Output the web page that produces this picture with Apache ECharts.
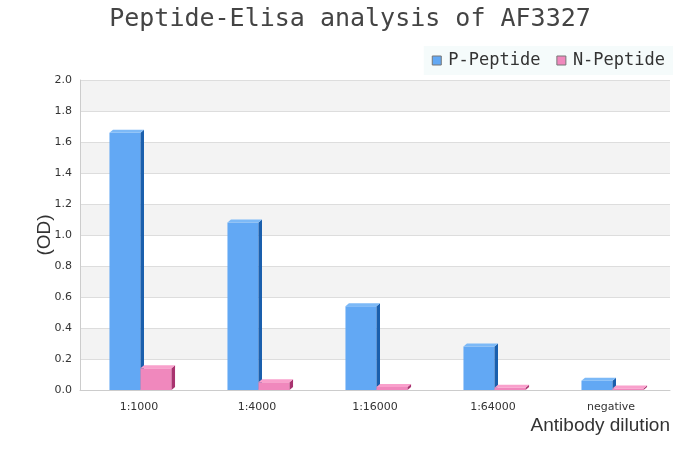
<!DOCTYPE html>
<html><head><meta charset="utf-8">
<script src="https://cdn.jsdelivr.net/npm/echarts@6/dist/echarts.min.js"></script>
<style>html,body{margin:0;padding:0;background:#fff}#c{width:700px;height:450px}</style>
</head><body><div id="c"></div>
<script>
var categories = ['1:1000','1:4000','1:16000','1:64000','negative'];
var pPeptide = [1.66, 1.08, 0.54, 0.28, 0.06];
var nPeptide = [0.14, 0.05, 0.02, 0.015, 0.01];
var yTicks = [0, 0.2, 0.4, 0.6, 0.8, 1.0, 1.2, 1.4, 1.6, 1.8, 2.0];

var styles = [
  {front:'#62a8f4', side:'#1a5fad', top:'#7cb9f7'},
  {front:'#f088bd', side:'#a8336f', top:'#f9a0cc'}
];
function make3d(idx){
  return function(params, api){
    var cat = api.value(0), v = api.value(1);
    var p = api.coord([cat, v]);
    var b = api.coord([cat, 0]);
    var bandW = api.size([1,0])[0];
    var w = bandW*0.263;
    var x0 = p[0] - w + 1.5 + idx*w;
    var x1 = x0 + w;
    var dx = 3.5, dy = 3;
    var st = styles[idx];
    return {type:'group', children:[
      {type:'rect', shape:{x:x0, y:p[1], width:w, height:b[1]-p[1]}, style:{fill:st.front}},
      {type:'polygon', shape:{points:[[x1,p[1]],[x1+dx,p[1]-dy],[x1+dx,b[1]-dy],[x1,b[1]]]}, style:{fill:st.side}},
      {type:'polygon', shape:{points:[[x0,p[1]],[x0+dx,p[1]-dy],[x1+dx,p[1]-dy],[x1,p[1]]]}, style:{fill:st.top}}
    ]};
  };
}
var chart = echarts.init(document.getElementById('c'));
chart.setOption({
  animation:false,
  title:{text:'Peptide-Elisa analysis of AF3327', left:'center', top:2,
    textStyle:{fontFamily:'DejaVu Sans Mono', fontSize:25, fontWeight:'normal', color:'#444'}},
  legend:{right:27, top:46, backgroundColor:'#f5fbfb', padding:[6,8,6,8], itemWidth:9, itemHeight:9, itemGap:16,
    textStyle:{fontFamily:'DejaVu Sans Mono', fontSize:17, color:'#333', padding:[0,0,0,2]},
    data:[{name:'P-Peptide', icon:'rect', itemStyle:{color:styles[0].front, borderColor:'#777', borderWidth:1}},
          {name:'N-Peptide', icon:'rect', itemStyle:{color:styles[1].front, borderColor:'#777', borderWidth:1}}]},
  graphic:[{type:'text', x:45, y:235, rotation:Math.PI/2,
    style:{text:'(OD)', fontSize:19, fill:'#333', fontFamily:'Liberation Sans', align:'center', verticalAlign:'middle'}}],
  grid:{left:80, right:30, top:80, bottom:60},
  xAxis:{type:'category', data:categories,
    axisLine:{lineStyle:{color:'#ccc'}}, axisTick:{show:false},
    axisLabel:{color:'#333', fontSize:11, margin:12, fontFamily:'DejaVu Sans'},
    name:'Antibody dilution', nameLocation:'end', nameGap:0,
    nameTextStyle:{align:'right', verticalAlign:'top', padding:[26,0,0,0], fontSize:19, color:'#333', fontFamily:'Liberation Sans'}},
  yAxis:{type:'value', min:0, max:2.0, interval:0.2,
    axisLine:{show:true, lineStyle:{color:'#ccc'}}, axisTick:{show:false},
    axisLabel:{color:'#333', fontSize:11, fontFamily:'DejaVu Sans', formatter:function(v){return v.toFixed(1);}},
    splitLine:{lineStyle:{color:'#ddd'}},
    splitArea:{show:true, areaStyle:{color:['#ffffff','#f3f3f3']}}},
  series:[
    {name:'P-Peptide', type:'custom', renderItem:make3d(0), itemStyle:{color:styles[0].front},
      data:pPeptide.map(function(v,i){return [i,v];}), encode:{x:0,y:1}},
    {name:'N-Peptide', type:'custom', renderItem:make3d(1), itemStyle:{color:styles[1].front},
      data:nPeptide.map(function(v,i){return [i,v];}), encode:{x:0,y:1}}
  ]
});
</script></body></html>
